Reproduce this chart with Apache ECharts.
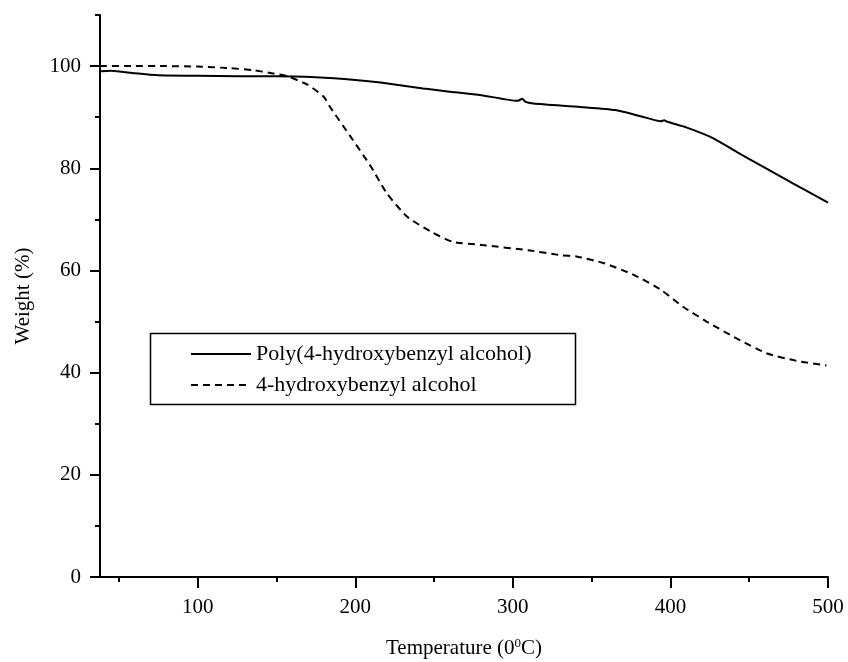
<!DOCTYPE html>
<html>
<head>
<meta charset="utf-8">
<script src="https://cdn.jsdelivr.net/npm/echarts@6/dist/echarts.min.js"></script>
<style>html,body{margin:0;padding:0;background:#fff}#c{width:848px;height:662px}</style>
</head>
<body>
<div id="c"></div>
<script>
// Series names
const seriesNames = ['Poly(4-hydroxybenzyl alcohol)', '4-hydroxybenzyl alcohol'];
// Poly(4-hydroxybenzyl alcohol) (solid)
const polyT = [38, 45, 60, 75, 100, 125, 150, 175, 200, 216, 243, 260, 280, 303, 306, 308, 313, 343, 365, 381, 394, 396, 398, 410, 427, 442, 457, 478, 500];
const polyW = [99.0, 99.1, 98.6, 98.2, 98.1, 98.0, 98.0, 97.8, 97.3, 96.8, 95.6, 95.0, 94.3, 93.2, 93.6, 93.0, 92.7, 92.0, 91.4, 90.2, 89.2, 89.4, 89.1, 88.0, 85.9, 83.2, 80.6, 77.0, 73.3];
// 4-hydroxybenzyl alcohol (dashed)
const monoT = [38, 60, 80, 100, 120, 135, 147, 157, 170, 180, 184, 197, 210, 220, 233, 248, 262, 280, 311, 330, 341, 358, 377, 394, 408, 423, 442, 461, 480, 499];
const monoW = [100, 100, 100, 99.9, 99.6, 99.2, 98.6, 98.0, 96.3, 94.0, 92.0, 86.2, 80.3, 75.1, 70.5, 67.6, 65.6, 65.0, 63.9, 63.0, 62.7, 61.4, 59.1, 56.2, 52.9, 50.0, 46.7, 43.8, 42.3, 41.4];
// Ticks
const xMajorTicks = [100, 200, 300, 400, 500];
const xMinorTicks = [50, 150, 250, 350, 450];
const yMajorTicks = [0, 20, 40, 60, 80, 100];
const yMinorTicks = [10, 30, 50, 70, 90, 110];
const xRange = [38, 500];
const yRange = [0, 110];

const FONT = '"Liberation Serif", "DejaVu Serif", serif';
const zip = (a, b) => a.map((v, i) => [v, b[i]]);

const chart = echarts.init(document.getElementById('c'), null, {renderer: 'canvas'});
const axisLineStyle = {color: '#000', width: 2};
chart.setOption({
  backgroundColor: '#fff',
  animation: false,
  grid: {left: 100, right: 20, top: 15, bottom: 85, containLabel: false, outerBoundsMode: 'none'},
  xAxis: [{
    type: 'value', min: xRange[0], max: xRange[1],
    name: 'Temperature (0{sup|0}C)', nameLocation: 'middle', nameGap: 60,
    nameTextStyle: {fontFamily: FONT, fontSize: 21, color: '#000',
      rich: {sup: {fontFamily: FONT, fontSize: 13, color: '#000', verticalAlign: 'top', padding: [0, 0, 10, 0]}}},
    axisLine: {show: true, lineStyle: axisLineStyle},
    axisTick: {show: true, inside: false, length: 11, lineStyle: {color: '#000', width: 2}, customValues: xMajorTicks},
    axisLabel: {show: true, margin: 20, fontFamily: FONT, fontSize: 21, color: '#000', customValues: xMajorTicks},
    splitLine: {show: false}
  }, {
    type: 'value', min: xRange[0], max: xRange[1], position: 'bottom',
    axisLine: {show: false},
    axisTick: {show: true, inside: false, length: 5, lineStyle: {color: '#000', width: 2}, customValues: xMinorTicks},
    axisLabel: {show: false},
    splitLine: {show: false}
  }],
  yAxis: [{
    type: 'value', min: yRange[0], max: yRange[1],
    name: 'Weight (%)', nameLocation: 'middle', nameGap: 66,
    nameTextStyle: {fontFamily: FONT, fontSize: 21, color: '#000'},
    axisLine: {show: true, lineStyle: axisLineStyle},
    axisTick: {show: true, inside: false, length: 10, lineStyle: {color: '#000', width: 2}, customValues: yMajorTicks},
    axisLabel: {show: true, margin: 19, fontFamily: FONT, fontSize: 21, color: '#000', customValues: yMajorTicks},
    splitLine: {show: false}
  }, {
    type: 'value', min: yRange[0], max: yRange[1], position: 'left',
    axisLine: {show: false},
    axisTick: {show: true, inside: false, length: 5, lineStyle: {color: '#000', width: 2}, customValues: yMinorTicks},
    axisLabel: {show: false},
    splitLine: {show: false}
  }],
  legend: {
    show: true, left: 190, top: 343, orient: 'vertical',
    itemWidth: 60, itemHeight: 20, itemGap: 9, padding: 0,
    itemStyle: {opacity: 0},
    textStyle: {fontFamily: FONT, fontSize: 22, color: '#000', lineHeight: 20},
    data: seriesNames
  },
  graphic: [{
    type: 'rect', left: 148, top: 331, z: 10, silent: true,
    shape: {width: 425, height: 71},
    style: {fill: 'none', stroke: '#000', lineWidth: 1.5}
  }],
  series: [{
    name: seriesNames[0], type: 'line', xAxisIndex: 0, yAxisIndex: 0,
    data: zip(polyT, polyW), symbol: 'none', showSymbol: false, smooth: 0.2,
    lineStyle: {color: '#000', width: 2, type: 'solid'}, itemStyle: {color: '#000', opacity: 0}
  }, {
    name: seriesNames[1], type: 'line', xAxisIndex: 0, yAxisIndex: 0,
    data: zip(monoT, monoW), symbol: 'none', showSymbol: false, smooth: 0.2,
    lineStyle: {color: '#000', width: 2, type: [7, 5]}, itemStyle: {color: '#000', opacity: 0}
  }]
});
</script>
</body>
</html>
